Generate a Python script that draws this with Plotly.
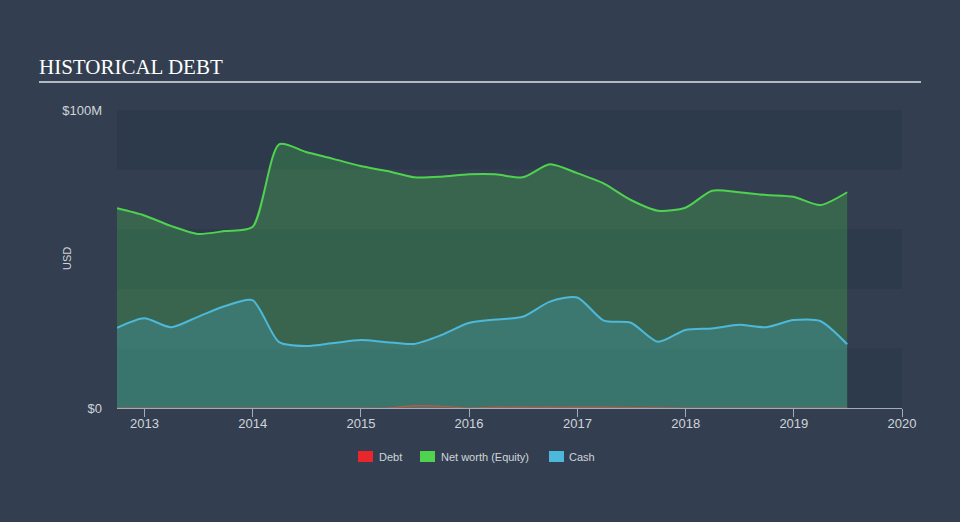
import plotly.graph_objects as go

dates = ["2012-09-30", "2012-12-31", "2013-03-31", "2013-06-30", "2013-09-30",
         "2013-12-31", "2014-03-31", "2014-06-30", "2014-09-30", "2014-12-31",
         "2015-03-31", "2015-06-30", "2015-09-30", "2015-12-31", "2016-03-31",
         "2016-06-30", "2016-09-30", "2016-12-31", "2017-03-31", "2017-06-30",
         "2017-09-30", "2017-12-31", "2018-03-31", "2018-06-30", "2018-09-30",
         "2018-12-31", "2019-03-31", "2019-06-30"]

net_worth = [67.0, 64.6, 61.1, 58.4, 59.4, 60.7, 88.5, 85.9, 83.6, 81.2,
             79.5, 77.4, 77.6, 78.4, 78.4, 77.4, 81.8, 78.8, 75.3, 69.8,
             66.2, 67.2, 72.9, 72.4, 71.5, 70.9, 68.1, 72.4]

cash = [26.9, 30.1, 27.1, 30.6, 34.2, 36.2, 22.1, 20.8, 21.8, 22.8,
        22.1, 21.5, 24.5, 28.5, 29.7, 30.6, 35.7, 37.1, 29.3, 28.6,
        22.2, 26.2, 26.7, 27.9, 27.1, 29.5, 29.2, 21.4]

debt = [0, 0, 0, 0, 0, 0, 0, 0, 0, 0,
        0, 0.8, 0.6, 0, 0.3, 0.3, 0.3, 0.3, 0.3, 0.2,
        0.1, 0, 0, 0, 0, 0, 0, 0]

y_tick_vals = [0, 100]
y_tick_text = ["$0", "$100M"]
x_tick_vals = ["2013-01-01", "2014-01-01", "2015-01-01", "2016-01-01",
               "2017-01-01", "2018-01-01", "2019-01-01", "2020-01-01"]
x_tick_text = ["2013", "2014", "2015", "2016", "2017", "2018", "2019", "2020"]

legend_names = ["Debt", "Net worth (Equity)", "Cash"]

BG = "#333f50"
BAND = "#2d3a4b"
GREEN = "#4fd34f"
CYAN = "#4cb9db"
RED = "#e8262b"
TXT = "#d0d4da"

# plot area in pixels: x 117..902, y 110..408
PL, PW, PB, PH = 117, 785, 408, 298


def px(x):
    return (x - PL) / PW


def py(y):
    return (PB - y) / PH


fig = go.Figure()

fig.add_trace(go.Scatter(
    x=dates, y=net_worth, mode="lines", fill="tozeroy", name=legend_names[1],
    line=dict(color=GREEN, width=2, shape="spline", smoothing=0.7),
    fillcolor="rgba(76,217,76,0.25)", showlegend=False, hoverinfo="skip"))
fig.add_trace(go.Scatter(
    x=dates, y=cash, mode="lines", fill="tozeroy", name=legend_names[2],
    line=dict(color=CYAN, width=2, shape="spline", smoothing=0.7),
    fillcolor="rgba(75,184,216,0.24)", showlegend=False, hoverinfo="skip"))
fig.add_trace(go.Scatter(
    x=dates, y=debt, mode="lines", fill="tozeroy", name=legend_names[0],
    line=dict(color="rgba(232,80,60,0.7)", width=1, shape="spline", smoothing=0.7),
    fillcolor="rgba(232,80,60,0.3)", showlegend=False, hoverinfo="skip"))

shapes = []
for y0, y1 in [(80, 100), (40, 60), (0, 20)]:
    shapes.append(dict(type="rect", xref="paper", yref="y", x0=0, x1=1,
                       y0=y0, y1=y1, fillcolor=BAND, line=dict(width=0),
                       layer="below"))
shapes.append(dict(type="line", xref="paper", yref="paper", x0=px(39), x1=px(921),
                   y0=py(82), y1=py(82),
                   line=dict(color="#b4b9c1", width=2)))

annotations = [
    dict(text="HISTORICAL DEBT", xref="paper", yref="paper",
         x=px(37), y=py(67), xanchor="left", yanchor="middle",
         showarrow=False,
         font=dict(family="Liberation Serif, Times New Roman, serif",
                   size=21, color="#ffffff")),
    dict(text="USD", xref="paper", yref="paper",
         x=px(67), y=0.5, xanchor="center", yanchor="middle",
         textangle=-90, showarrow=False,
         font=dict(size=11, color=TXT)),
]

# custom legend
legend_items = [(legend_names[0], RED, 358, 377),
                (legend_names[1], GREEN, 420, 439),
                (legend_names[2], CYAN, 549, 567)]
for name, col, sx, tx in legend_items:
    shapes.append(dict(type="rect", xref="paper", yref="paper",
                       x0=px(sx), x1=px(sx + 15), y0=py(462), y1=py(451),
                       fillcolor=col, line=dict(width=0)))
    annotations.append(dict(text=name, xref="paper", yref="paper",
                            x=px(tx), y=py(456.5), xanchor="left", yanchor="middle",
                            showarrow=False, font=dict(size=11, color=TXT)))

fig.update_layout(
    width=960, height=522,
    paper_bgcolor=BG, plot_bgcolor=BG,
    margin=dict(l=117, r=58, t=110, b=114),
    font=dict(family="Liberation Sans, Arial, sans-serif", color=TXT, size=13),
    shapes=shapes,
    annotations=annotations,
    showlegend=False,
    xaxis=dict(type="date", range=["2012-09-30", "2020-01-01"],
               tickvals=x_tick_vals, ticktext=x_tick_text,
               showgrid=False, zeroline=False,
               showline=True, linecolor="#a3abb6", linewidth=1,
               ticks="outside", ticklen=8, tickcolor="#a3abb6", tickwidth=1,
               ticklabelstandoff=-5,
               tickfont=dict(size=13, color=TXT)),
    yaxis=dict(range=[0, 100], tickvals=y_tick_vals, ticktext=y_tick_text,
               showgrid=False, zeroline=False, showline=False,
               ticks="", ticklabelstandoff=14,
               tickfont=dict(size=13, color=TXT)),
)

fig.write_html("out.html")
